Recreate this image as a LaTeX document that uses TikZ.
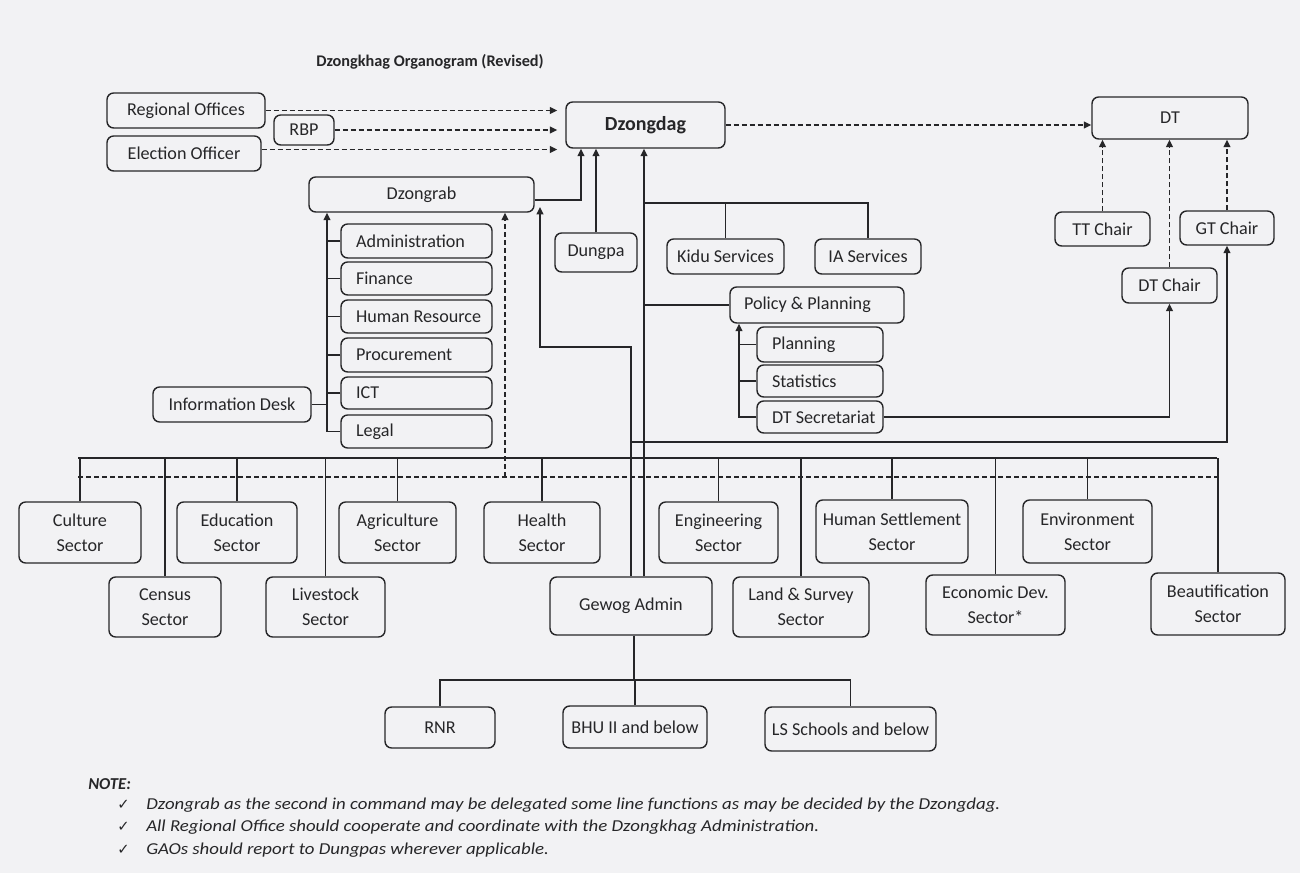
\documentclass[tikz,border=0pt]{standalone}
\usepackage{fontspec}
\setmainfont{Carlito}
\newfontfamily\dejavu{DejaVu Sans}
\usetikzlibrary{arrows.meta}
\definecolor{bgc}{RGB}{242,242,244}
\definecolor{linec}{RGB}{38,38,40}
\newcommand\bxf{\fontsize{13.6}{19}\selectfont}
\newcommand\lta[1]{\makebox[90.75pt][l]{#1}}
\newcommand\ltb[1]{\makebox[72pt][l]{#1}}
\newcommand\ltc[1]{\makebox[109.5pt][l]{#1}}
\newcommand\nstr[1]{\scalebox{1.13}[1]{#1}}
\begin{document}
\begin{tikzpicture}[x=0.75pt,y=-0.75pt,
  box/.style={draw=linec, line width=1.05pt, rounded corners=5pt, fill=bgc, inner sep=0pt, font=\bxf, align=center, text=linec},
  bx/.style args={#1/#2/#3/#4}{minimum width={(#3-#1)*0.75pt}, minimum height={(#4-#2)*0.75pt}, at={({(#1+#3)/2},{(#2+#4)/2})}},
  conn/.style={draw=linec, line width=1.1pt},
  arr/.style={conn, -{Triangle[length=5.5pt,width=5pt]}},
  darr/.style={conn, dash pattern=on 4pt off 2pt, -{Triangle[length=5.5pt,width=5pt]}},
  dline/.style={conn, dash pattern=on 4pt off 2pt},
  notef/.style={font=\fontsize{12.5}{14}\selectfont\itshape, text=linec, inner sep=0pt},
  ckf/.style={font=\dejavu\fontsize{11}{12}\selectfont, text=linec, inner sep=0pt}
]
\fill[bgc] (0,0) rectangle (1300,873);
\useasboundingbox (0,0) rectangle (1300,873);

% title
\node[font=\fontsize{12.2}{14}\selectfont\bfseries, text=linec] (title) at (430,62) {Dzongkhag Organogram (Revised)};

% top
\node[box, bx=107/93/265/128] (ro) {Regional Offices};
\node[box, bx=274/115/334/145] (rbp) {RBP};
\node[box, bx=107/136/261/171] (eo) {Election Officer};
\node[box, bx=566/102/725/148, font=\fontsize{15}{18}\selectfont\bfseries] (dz) {Dzongdag};
\node[box, bx=1092/97/1248/139] (dt) {DT};
\node[box, bx=309/177/534/212] (zr) {Dzongrab};
\node[box, bx=555/233/637/272] (dp) {Dungpa};
\node[box, bx=667/239/784/274] (kidu) {Kidu Services};
\node[box, bx=815/239/921/274] (ia) {IA Services};
\node[box, bx=730/287/904/323] (pp) {\ltc{Policy \& Planning}};
\node[box, bx=757/327/883/362] (pl) {\ltb{Planning}};
\node[box, bx=757/365/883/397] (st) {\ltb{Statistics}};
\node[box, bx=757/401/883/433] (dts) {\ltb{DT Secretariat}};
\node[box, bx=1055/212/1150/246] (ttc) {TT Chair};
\node[box, bx=1180/211/1274/245] (gtc) {GT Chair};
\node[box, bx=1122/268/1217/303] (dtc) {DT Chair};

% Dzongrab units
\node[box, bx=341/224/492/258] (ad) {\lta{Administration}};
\node[box, bx=341/262/492/295] (fi) {\lta{Finance}};
\node[box, bx=341/300/492/333] (hr) {\lta{Human Resource}};
\node[box, bx=341/338/492/372] (pr) {\lta{Procurement}};
\node[box, bx=341/377/492/409] (ict) {\lta{ICT}};
\node[box, bx=341/415/492/448] (lg) {\lta{Legal}};
\node[box, bx=153/387/311/422] (id) {Information Desk};

% sectors row 1
\node[box, bx=19/502/141/563] (cul) {Culture\\Sector};
\node[box, bx=177/502/297/563] (edu) {Education\\Sector};
\node[box, bx=339/502/456/563] (agr) {Agriculture\\Sector};
\node[box, bx=484/502/600/563] (hea) {Health\\Sector};
\node[box, bx=659/502/778/563] (eng) {Engineering\\Sector};
\node[box, bx=816/500/968/563] (hs) {Human Settlement\\Sector};
\node[box, bx=1023/500/1152/563] (env) {Environment\\Sector};
% sectors row 2
\node[box, bx=109/577/221/637] (cen) {Census\\Sector};
\node[box, bx=266/577/385/637] (liv) {Livestock\\Sector};
\node[box, bx=550/577/712/635] (gw) {Gewog Admin};
\node[box, bx=733/577/869/637] (lsv) {Land \& Survey\\Sector};
\node[box, bx=926/575/1065/635] (eco) {Economic Dev.\\Sector*};
\node[box, bx=1151/573/1285/635] (bea) {Beautification\\Sector};
% gewog units
\node[box, bx=385/707/495/748] (rnr) {RNR};
\node[box, bx=563/706/707/748] (bhu) {BHU II and below};
\node[box, bx=765/707/936/751] (lss) {LS Schools and below};

% coordinates
\coordinate (c581) at (581,200);
\coordinate (v2) at (644,0);
\coordinate (kb) at (644,203);
\coordinate (v739) at (739,0);
\coordinate (v1) at (631,347);
\coordinate (v540) at (540,347);
\coordinate (zrtip) at (540,207);
\coordinate (g1) at (631,442);
\coordinate (v327) at (327,0);
\coordinate (d505) at (505,477);
\coordinate (busL) at (78,458);
\coordinate (busR) at (1217,458);
\coordinate (dL) at (78,477);
\coordinate (dR) at (1217,477);
\coordinate (gb) at (634,680);

% dashed top arrows
\draw[darr, shorten >=6pt] (ro.east) -- (ro.east -| dz.west);
\draw[darr, shorten >=6pt] (rbp.east) -- (rbp.east -| dz.west);
\draw[darr, shorten >=6pt] ([yshift=3pt]eo.east) -- ([yshift=3pt]eo.east -| dz.west);
\draw[darr] (dz.east) -- (dz.east -| dt.west);

% to Dzongdag
\draw[arr] (zr.east |- c581) -- (c581) -- (c581 |- dz.south);
\draw[arr] (dp.north) -- (dp.north |- dz.south);
\draw[arr] (gw.north -| v2) -- (v2 |- dz.south);
\draw[conn] (kb) -| (ia.north);
\draw[conn] (kidu.north) -- (kidu.north |- kb);
\draw[conn] (pp.west) -- (pp.west -| v2);

% Policy sub-units
\draw[arr] (dts.west) -| (v739 |- pp.south);
\draw[conn] (pl.west) -- (pl.west -| v739);
\draw[conn] (st.west) -- (st.west -| v739);
\draw[arr] (dts.east) -| (dtc.south);

% chairs to DT
\draw[darr] (ttc.north) -- (ttc.north |- dt.south);
\draw[darr] (dtc.north) -- (dtc.north |- dt.south);
\draw[darr] (gtc.north) -- (gtc.north |- dt.south);
\draw[arr] (g1) -| (gtc.south);

% Gewog to Dzongrab
\draw[arr] (gw.north -| v1) -- (v1) -- (v540) -- (zrtip);

% Dzongrab units
\draw[arr] (lg.west) -| (v327 |- zr.south);
\draw[conn] (ad.west) -- (ad.west -| v327);
\draw[conn] (fi.west) -- (fi.west -| v327);
\draw[conn] (hr.west) -- (hr.west -| v327);
\draw[conn] (pr.west) -- (pr.west -| v327);
\draw[conn] (ict.west) -- (ict.west -| v327);
\draw[conn] (id.east) -- (id.east -| v327);
\draw[darr] (d505) -- (d505 |- zr.south);

% sector bus
\draw[conn] (busL) -- (busR);
\draw[dline] (dL) -- (dR);
\foreach \n in {cul,edu,agr,hea,eng,hs,env,cen,liv,lsv,eco,bea}
  \draw[conn] (\n.north) -- (\n.north |- busL);

% gewog units
\draw[conn] (gw.south -| gb) -- (gb);
\draw[conn] (rnr.north) |- (gb) -| (lss.north);
\draw[conn] (bhu.north) -- (bhu.north |- gb);

% notes
\node[anchor=base west, font=\fontsize{12.5}{14}\selectfont\bfseries\itshape, text=linec, inner sep=0pt] (note) at (88,789) {NOTE:};
\node[ckf, anchor=base west] (ck1) at (117,809) {✓};
\node[ckf, anchor=base west] (ck2) at (117,831) {✓};
\node[ckf, anchor=base west] (ck3) at (117,854) {✓};
\node[notef, anchor=base west] (n1) at (146,809) {\nstr{Dzongrab as the second in command may be delegated some line functions as may be decided by the Dzongdag.}};
\node[notef, anchor=base west] (n2) at (146,831) {\nstr{All Regional Office should cooperate and coordinate with the Dzongkhag Administration.}};
\node[notef, anchor=base west] (n3) at (146,854) {\nstr{GAOs should report to Dungpas wherever applicable.}};
\end{tikzpicture}
\end{document}
